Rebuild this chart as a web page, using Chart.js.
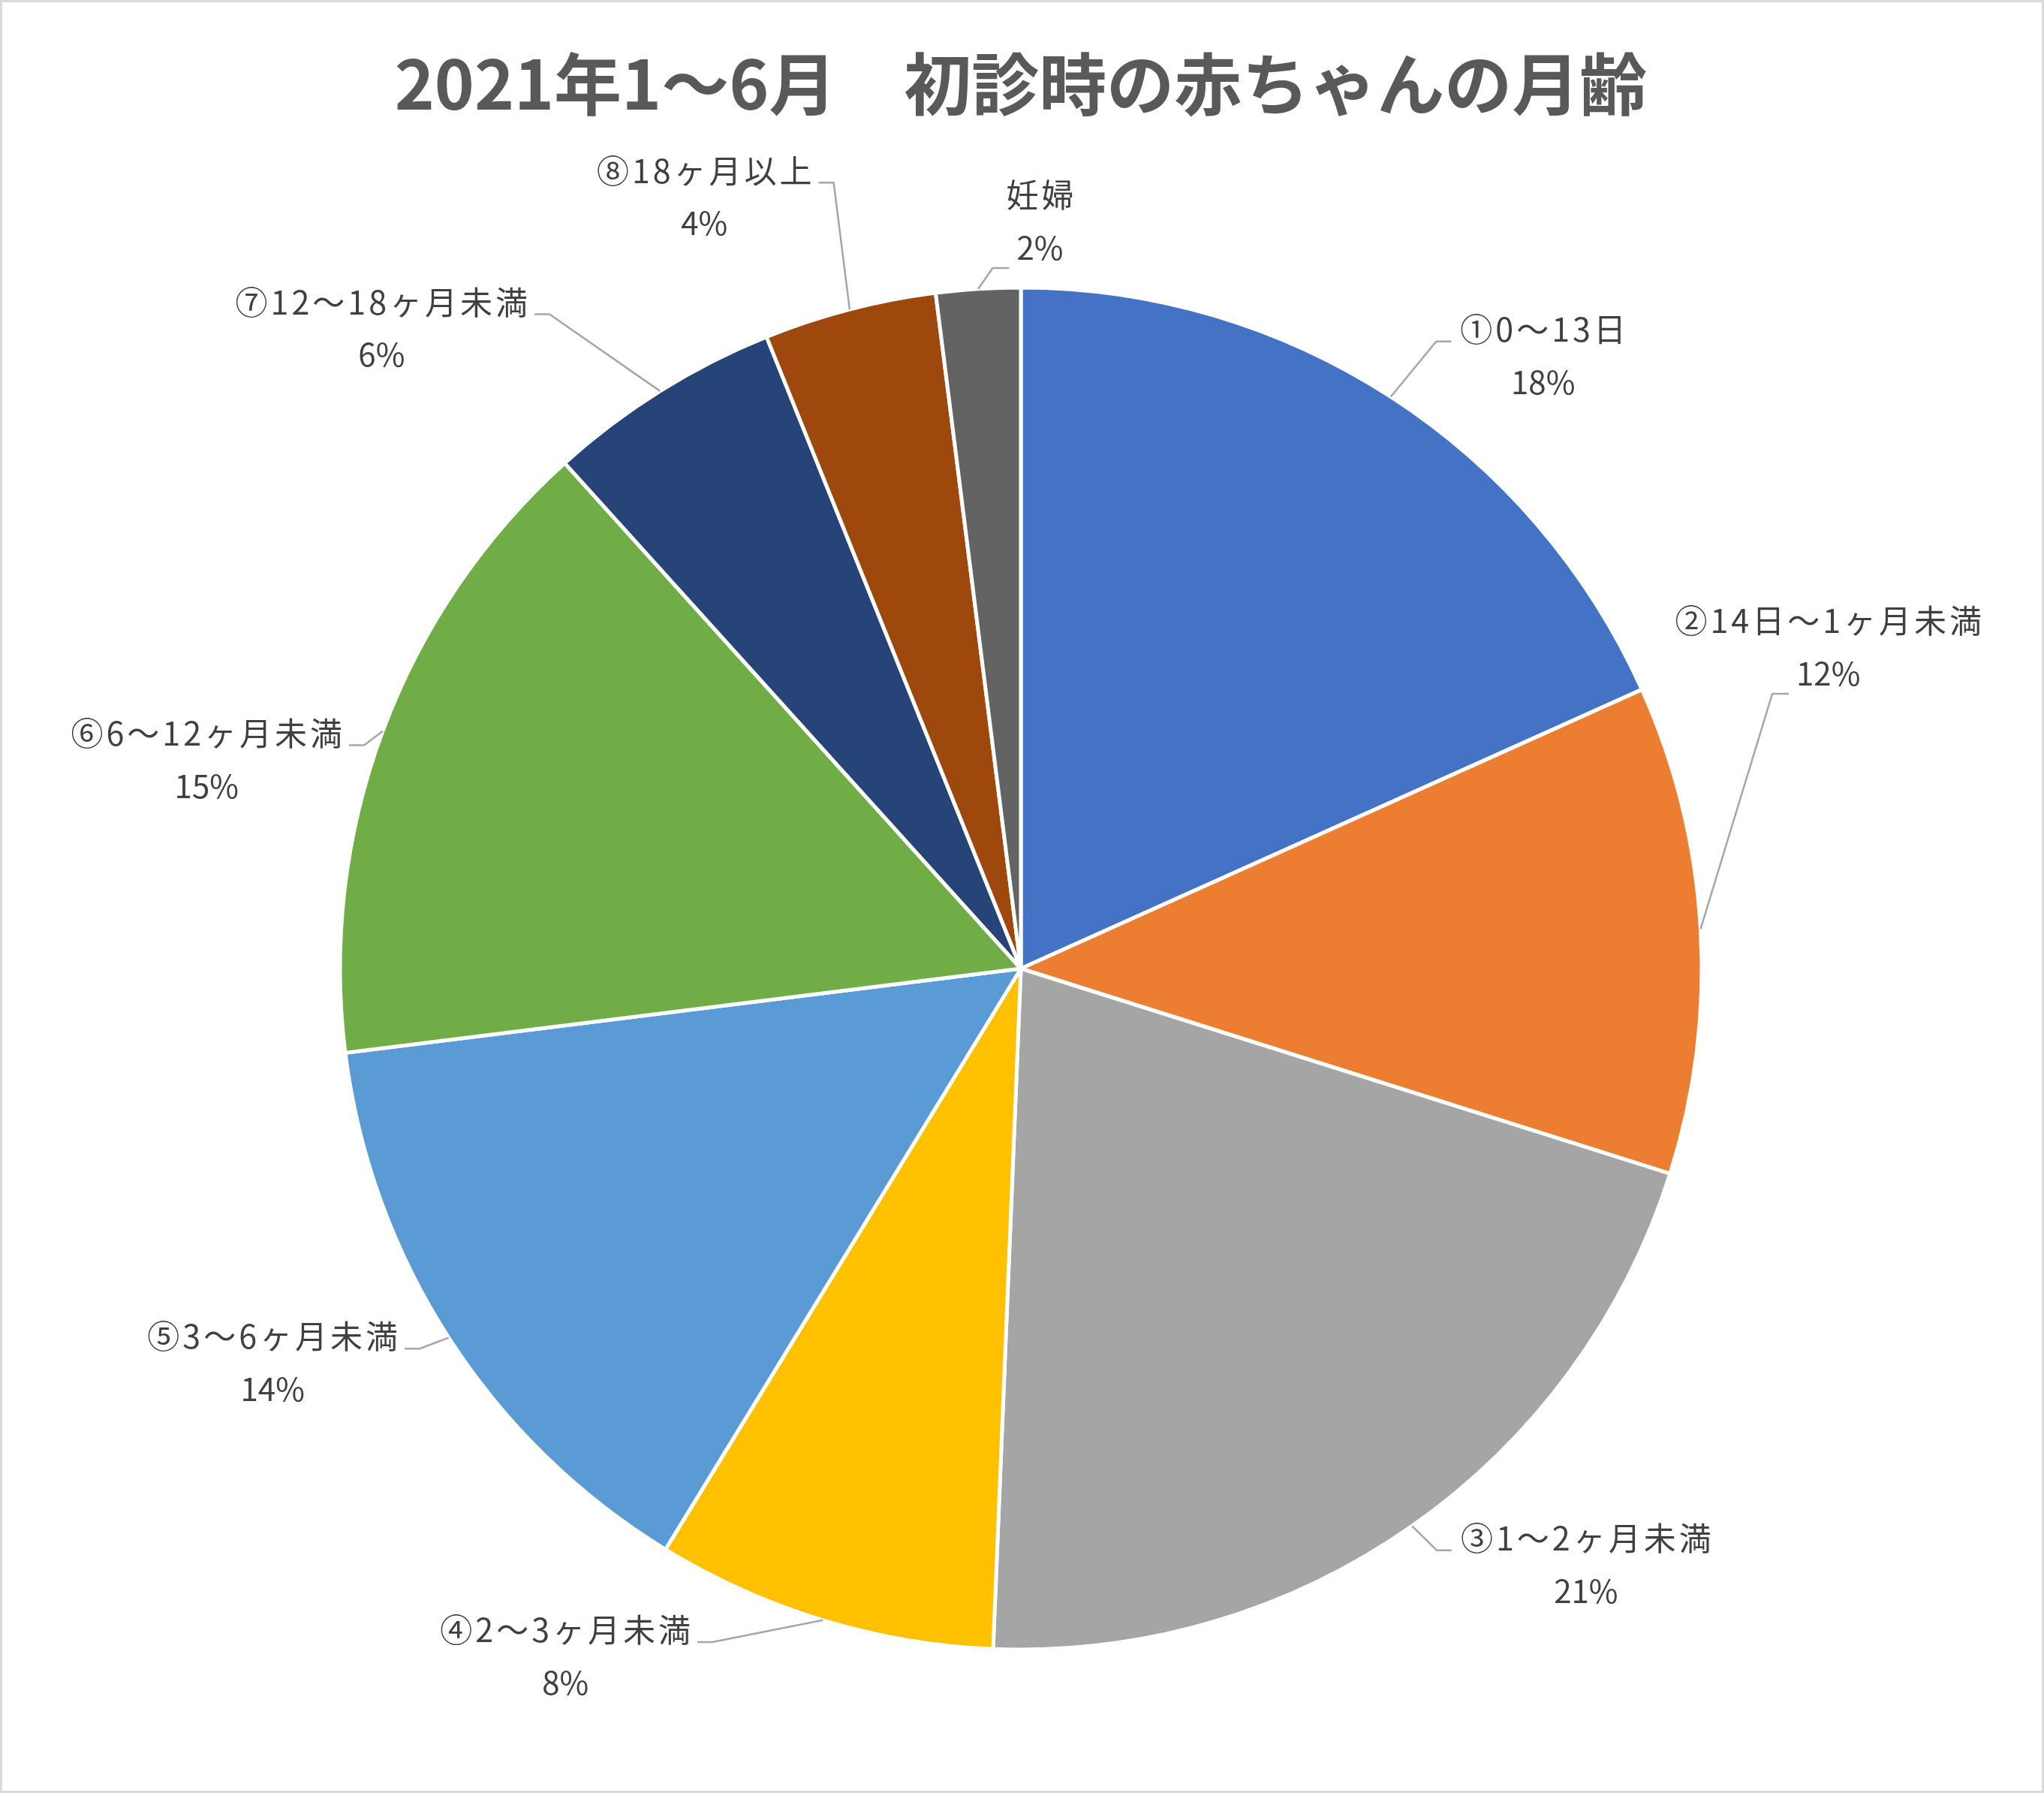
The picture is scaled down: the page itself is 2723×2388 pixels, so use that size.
<!DOCTYPE html>
<html lang="ja">
<head>
<meta charset="utf-8">
<title>2021年1〜6月 初診時の赤ちゃんの月齢</title>
<script src="https://cdn.jsdelivr.net/npm/chart.js@4.4.1/dist/chart.umd.min.js"></script>
<style>
  html, body { margin: 0; padding: 0; background: #ffffff; }
  #ageChart { display: block; }
</style>
</head>
<body>
<canvas id="ageChart" width="2723" height="2388"></canvas>
<script>
const titleText = "2021年1〜6月　初診時の赤ちゃんの月齢";

const categories = [
  "①0〜13日",
  "②14日〜1ヶ月未満",
  "③1〜2ヶ月未満",
  "④2〜3ヶ月未満",
  "⑤3〜6ヶ月未満",
  "⑥6〜12ヶ月未満",
  "⑦12〜18ヶ月未満",
  "⑧18ヶ月以上",
  "妊婦",
];

// share of first visits, %
const shares = [18.3, 11.6, 20.8, 8.1, 14.3, 15.3, 5.6, 4.1, 2.0];

const sliceColors = [
  "#4472C4", "#ED7D31", "#A5A5A5", "#FFC000", "#5B9BD5",
  "#70AD47", "#264478", "#9E480E", "#636363",
];

// label block centre relative to the pie centre, in radius units,
// and the side the leader line comes in from
const labelLayout = [
  { dx: 0.767, dy: -0.900, attach: "left" },
  { dx: 1.186, dy: -0.472, attach: "bottom" },
  { dx: 0.830, dy: 0.875, attach: "left" },
  { dx: -0.669, dy: 1.010, attach: "right" },
  { dx: -1.099, dy: 0.579, attach: "right" },
  { dx: -1.196, dy: -0.307, attach: "right" },
  { dx: -0.939, dy: -0.940, attach: "right" },
  { dx: -0.465, dy: -1.133, attach: "right" },
  { dx: 0.028, dy: -1.097, attach: "bottom" },
];

const FONT = '"Noto Sans CJK JP", "Noto Sans", sans-serif';

const frame = {
  id: "frame",
  beforeDraw(chart) {
    const ctx = chart.ctx;
    ctx.save();
    ctx.fillStyle = "#ffffff";
    ctx.fillRect(0, 0, chart.width, chart.height);
    ctx.restore();
  },
  afterDraw(chart) {
    const ctx = chart.ctx;
    ctx.save();
    ctx.strokeStyle = "#d9d9d9";
    ctx.lineWidth = 3;
    ctx.strokeRect(1.5, 1.5, chart.width - 3, chart.height - 3);
    ctx.restore();
  },
};

const pieLabels = {
  id: "pieLabels",
  afterDatasetsDraw(chart) {
    const ctx = chart.ctx;
    const meta = chart.getDatasetMeta(0);
    const total = shares.reduce((a, b) => a + b, 0);
    const nameFont = "43px " + FONT;
    const pctFont = "42px " + FONT;
    ctx.save();
    ctx.textAlign = "center";
    ctx.textBaseline = "middle";
    meta.data.forEach((arc, i) => {
      const p = arc.getProps(["x", "y", "startAngle", "endAngle", "outerRadius"], true);
      const mid = (p.startAngle + p.endAngle) / 2;
      const lay = labelLayout[i];
      const cx = p.x + lay.dx * p.outerRadius;
      const cy = p.y + lay.dy * p.outerRadius;
      const y1 = cy - 35;
      const y2 = cy + 35;
      const pct = Math.round((shares[i] / total) * 100) + "%";
      ctx.font = nameFont;
      ctx.letterSpacing = "4px";
      const w1 = ctx.measureText(categories[i]).width;
      ctx.font = pctFont;
      ctx.letterSpacing = "0px";
      const w2 = ctx.measureText(pct).width;

      let ex, ey, kx;
      if (lay.attach === "left") {
        ex = cx - w1 / 2 - 10; ey = y1 + 16; kx = ex - 20;
      } else if (lay.attach === "right") {
        ex = cx + w1 / 2 + 7; ey = y1 + 16; kx = ex + 20;
      } else {
        ex = cx - w2 / 2 - 10; ey = y2 + 27; kx = ex - 22;
      }
      const sx = p.x + Math.cos(mid) * p.outerRadius;
      const sy = p.y + Math.sin(mid) * p.outerRadius;

      ctx.strokeStyle = "#a6a6a6";
      ctx.lineWidth = 2.5;
      ctx.beginPath();
      ctx.moveTo(sx, sy);
      ctx.lineTo(kx, ey);
      ctx.lineTo(ex, ey);
      ctx.stroke();

      ctx.fillStyle = "#404040";
      ctx.font = nameFont;
      ctx.letterSpacing = "4px";
      ctx.fillText(categories[i], cx + 2, y1);
      ctx.font = pctFont;
      ctx.letterSpacing = "0px";
      ctx.fillText(pct, cx, y2);
    });
    ctx.restore();
  },
};

new Chart(document.getElementById("ageChart"), {
  type: "pie",
  data: {
    labels: categories,
    datasets: [
      {
        data: shares,
        backgroundColor: sliceColors,
        borderColor: "#ffffff",
        borderWidth: 5,
        hoverOffset: 0,
        offset: 0,
      },
    ],
  },
  options: {
    responsive: false,
    animation: false,
    radius: 907,
    layout: { padding: { left: 453, right: 456, top: 0, bottom: 191 } },
    plugins: {
      legend: { display: false },
      tooltip: { enabled: false },
      title: {
        display: true,
        text: titleText,
        color: "#595959",
        font: { family: FONT, size: 90, weight: "bold", lineHeight: 1.2 },
        padding: { top: 58, bottom: 217 },
      },
    },
  },
  plugins: [frame, pieLabels],
});
</script>
</body>
</html>
